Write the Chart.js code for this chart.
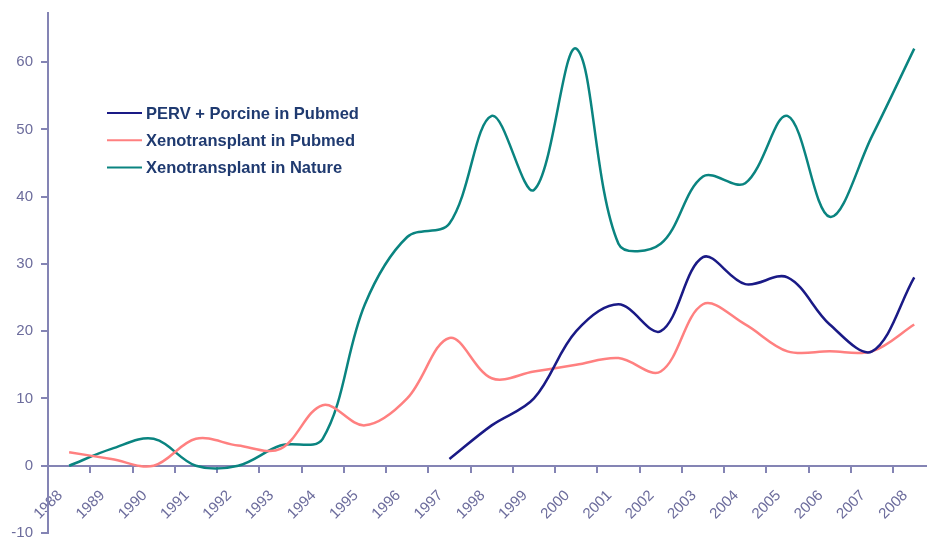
<!DOCTYPE html>
<html>
<head>
<meta charset="utf-8">
<script src="https://cdn.jsdelivr.net/npm/chart.js@4/dist/chart.umd.min.js"></script>
<style>
  html, body { margin: 0; padding: 0; background: #fff; overflow: hidden; }
  #wrap { width: 942px; height: 554px; margin-top: -4px; }
</style>
</head>
<body>
<div id="wrap"><canvas id="xeno"></canvas></div>
<script>
const years = ['1988','1989','1990','1991','1992','1993','1994','1995','1996','1997','1998',
  '1999','2000','2001','2002','2003','2004','2005','2006','2007','2008'];
const pervPorcine = [null, null, null, null, null, null, null, null, null, 1, 6,
  10, 20, 24, 20, 31, 27, 28, 21, 17, 28];
const xenoPubmed = [2, 1, 0, 4, 3, 2.5, 9, 6, 10, 19, 13,
  14, 15, 16, 14, 24, 21, 17, 17, 17, 21];
const xenoNature = [0, 2.5, 4, 0, 0, 3, 4, 24, 34, 36, 52,
  41, 62, 33, 33, 43, 42, 52, 37, 49, 62];

const axisColor = '#8484b4';
const labelColor = '#6c6c9c';
const font = { family: 'Liberation Sans, Arial, sans-serif', size: 15 };

// legend sits inside the plot, Excel style
const insideLegend = {
  id: 'insideLegend',
  afterDatasetsDraw(chart) {
    const c = chart.ctx;
    c.save();
    c.font = 'bold 16.5px "Liberation Sans", Arial, sans-serif';
    c.textBaseline = 'middle';
    chart.data.datasets.forEach((ds, i) => {
      const y = 117 + i * 27.2;
      c.strokeStyle = ds.borderColor;
      c.lineWidth = 2;
      c.beginPath();
      c.moveTo(107, y);
      c.lineTo(142, y);
      c.stroke();
      c.fillStyle = '#1f3a70';
      c.fillText(ds.label, 146, y + 1);
    });
    c.restore();
  }
};

new Chart(document.getElementById('xeno'), {
  type: 'line',
  data: {
    labels: years,
    datasets: [
      { label: 'PERV + Porcine in Pubmed', data: pervPorcine, borderColor: '#1a1a86' },
      { label: 'Xenotransplant in Pubmed', data: xenoPubmed, borderColor: '#ff8080' },
      { label: 'Xenotransplant in Nature', data: xenoNature, borderColor: '#0a8480' }
    ]
  },
  options: {
    responsive: true,
    maintainAspectRatio: false,
    animation: false,
    layout: { padding: { top: 6, bottom: 7, left: 0, right: 1 } },
    elements: {
      line: { borderWidth: 2.5, tension: 0.35, fill: false },
      point: { radius: 0 }
    },
    plugins: { legend: { display: false }, tooltip: { enabled: false } },
    scales: {
      x: {
        position: { y: 0 },
        offset: true,
        border: { color: axisColor, width: 2 },
        grid: { offset: true, drawOnChartArea: false, color: axisColor, lineWidth: 2, tickLength: 6 },
        ticks: { color: labelColor, font, minRotation: 45, maxRotation: 45, padding: 15, labelOffset: -9, autoSkip: false }
      },
      y: {
        min: -10,
        max: 67.3,
        afterFit: s => { s.width = 48; },
        border: { color: axisColor, width: 2 },
        grid: { drawOnChartArea: false, color: axisColor, lineWidth: 2, tickLength: 7 },
        ticks: { stepSize: 10, includeBounds: false, color: labelColor, font, padding: 8 }
      }
    }
  },
  plugins: [insideLegend]
});
</script>
</body>
</html>
